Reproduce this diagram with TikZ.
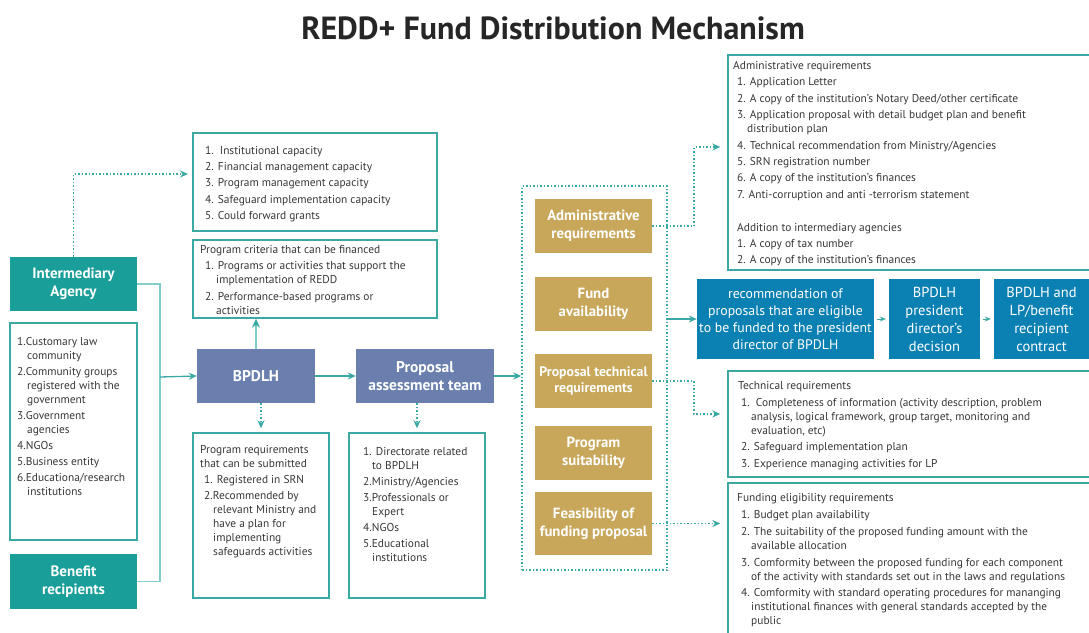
\documentclass[tikz,border=0pt]{standalone}
\usepackage{fontspec}
\setmainfont{PT Sans}
\usepackage{tikz}
\usetikzlibrary{arrows.meta, positioning, calc}
\definecolor{agentteal}{RGB}{26,158,153}
\definecolor{lineteal}{RGB}{58,169,164}
\definecolor{paleteal}{RGB}{130,206,202}
\definecolor{slate}{RGB}{106,127,174}
\definecolor{gold}{RGB}{200,167,90}
\definecolor{ocean}{RGB}{11,128,179}
\definecolor{ink}{RGB}{55,55,55}
\tikzstyle{agent} = [rectangle, fill=agentteal, text=white, font=\bfseries\fontsize{15}{18.5}\selectfont, align=center, inner sep=0pt]
\tikzstyle{office} = [rectangle, fill=slate, text=white, font=\bfseries\fontsize{15.5}{18.5}\selectfont, align=center, inner sep=0pt]
\tikzstyle{criterion} = [rectangle, fill=gold, text=white, font=\bfseries\fontsize{14.8}{18}\selectfont, align=center, inner sep=0pt, minimum width=117, minimum height=54]
\tikzstyle{stage} = [rectangle, fill=ocean, text=white, font=\fontsize{13.8}{17}\selectfont, align=center, inner sep=0pt, minimum height=80]
\tikzstyle{listbox} = [rectangle, draw=lineteal, line width=1.4pt, inner sep=0pt]
\tikzstyle{listtext} = [anchor=north west, align=left, inner sep=0pt, text=ink, font=\fontsize{11.4}{14}\selectfont]
\tikzstyle{arrow} = [line width=1.3pt, draw=lineteal, ->, >={Stealth[length=8pt,width=7pt]}]
\tikzstyle{dotarrow} = [line width=1.5pt, draw=lineteal, dotted, ->, >={Stealth[length=8pt,width=7pt]}]

\begin{document}
\begin{tikzpicture}[x=1pt, y=-1pt]
    \useasboundingbox (0,0) rectangle (1089,632);

    % Title
    \node[font=\bfseries\fontsize{32}{38}\selectfont, text=black!85] (title) at (553,28) {REDD+ Fund Distribution Mechanism};

    % Recipients column
    \node[agent, minimum width=127, minimum height=54] (intag) at (73.5,284) {Intermediary\\Agency};
    \node[listbox, minimum width=127, minimum height=217] (types) at (73.5,431.5) {};
    \node[listtext] at (17,337) {1.Customary law\\
        \hspace*{10pt}community\\[2pt]
        2.Community groups\\
        \hspace*{10pt}registered with the\\
        \hspace*{10pt}government\\[2pt]
        3.Government\\
        \hspace*{10pt}agencies\\[2pt]
        4.NGOs\\[2pt]
        5.Business entity\\[2pt]
        6.Educationa/research\\
        \hspace*{10pt}institutions};
    \node[agent, minimum width=127, minimum height=55] (benef) at (73.5,581.5) {Benefit\\recipients};

    \coordinate (bus) at (160,377);
    \draw[line width=1.3pt, paleteal] (intag.east) -| (bus) |- (benef.east);
    \draw[dotarrow] (intag.north) |- (188,174) coordinate (capin);

    % Capacity and criteria
    \node[listbox, minimum width=244, minimum height=98] (capac) at (315,182) {};
    \node[listtext, font=\fontsize{11.4}{16.3}\selectfont] at (205,146) {1.\ \ Institutional capacity\\
        2. Financial management capacity\\
        3. Program management capacity\\
        4. Safeguard implementation capacity\\
        5. Could forward grants};
    \node[listbox, minimum width=244, minimum height=78] (crit) at (315,279) {};
    \node[listtext] at (200,245) {Program criteria that can be financed\\[2pt]
        \hspace*{5pt}1. Programs or activities that support the\\
        \hspace*{16pt}implementation of REDD\\[3pt]
        \hspace*{5pt}2. Performance-based programs or\\
        \hspace*{16pt}activities};

    % BPDLH
    \node[office, minimum width=118, minimum height=54] (bpdlh) at (256,376) {BPDLH};
    \draw[arrow] (bus) -- (bpdlh.west);
    \draw[line width=1.3pt, paleteal, -{Stealth[length=9pt,width=8pt,color=lineteal]}] (bpdlh.north) -- (bpdlh.north |- crit.south);
    \node[listbox, minimum width=136, minimum height=165] (subreq) at (261,515.5) {};
    \node[listtext] at (200,445) {Program requirements\\
        that can be submitted\\[2pt]
        \hspace*{4pt}1. Registered in SRN\\[2pt]
        \hspace*{4pt}2.Recommended by\\
        \hspace*{13pt}relevant Ministry and\\
        \hspace*{13pt}have a plan for\\
        \hspace*{13pt}implementing\\
        \hspace*{13pt}safeguards activities};
    \draw[dotarrow, shorten >=4pt] (bpdlh.south -| subreq.north) -- (subreq.north);

    % Assessment team
    \node[office, minimum width=138, minimum height=54] (team) at (425,376) {Proposal\\assessment team};
    \draw[arrow] (bpdlh.east) -- (team.west);
    \node[listbox, minimum width=136, minimum height=165] (members) at (417,515.5) {};
    \node[listtext] at (363,447) {1. Directorate related\\
        \hspace*{9pt}to BPDLH\\[2pt]
        2.Ministry/Agencies\\[2pt]
        3.Professionals or\\
        \hspace*{9pt}Expert\\[2pt]
        4.NGOs\\[2pt]
        5.Educational\\
        \hspace*{9pt}institutions};
    \draw[dotarrow, shorten >=4pt] (team.south -| members.north) -- (members.north);

    % Assessment criteria
    \node[draw=lineteal, line width=1.5pt, dotted, minimum width=145, minimum height=384, inner sep=0pt] (frame) at (594.5,378) {};
    \draw[arrow] (team.east) -- (frame.west |- team.east);
    \node[criterion] (admgold) at (593.5,226) {Administrative\\requirements};
    \node[criterion] (fundgold) at (593.5,304) {Fund\\availability};
    \node[criterion, font=\bfseries\fontsize{13.8}{16.5}\selectfont] (techgold) at (593.5,381) {Proposal technical\\requirements};
    \node[criterion] (suitgold) at (593.5,453) {Program\\suitability};
    \node[criterion, minimum height=63] (feasgold) at (593.5,523.5) {Feasibility of\\funding proposal};

    % Decision chain
    \node[stage, minimum width=177] (recom) at (785.5,319) {recommendation of\\proposals that are eligible\\to be funded to the president\\director of BPDLH};
    \node[stage, minimum width=91, font=\fontsize{14.5}{18}\selectfont] (decis) at (934.5,319) {BPDLH\\president\\director’s\\decision};
    \node[stage, minimum width=95, font=\fontsize{14.5}{18}\selectfont] (contr) at (1041.5,319) {BPDLH and\\LP/benefit\\recipient\\contract};
    \draw[arrow] (frame.east |- recom.west) -- (recom.west);
    \draw[arrow, line width=1pt, >={Stealth[length=6pt,width=5pt]}, shorten <=3pt, shorten >=3pt] (recom.east) -- (decis.west);
    \draw[arrow, line width=1pt, >={Stealth[length=6pt,width=5pt]}, shorten <=3pt, shorten >=3pt] (decis.east) -- (contr.west);

    % Requirement details
    \node[listbox, minimum width=367, minimum height=215] (adminreq) at (911.5,162.5) {};
    \node[listtext] at (733,61) {Administrative requirements\\[2pt]
        \hspace*{4pt}1. Application Letter\\[3pt]
        \hspace*{4pt}2. A copy of the institution’s Notary Deed/other certificate\\[2pt]
        \hspace*{4pt}3. Application proposal with detail budget plan and benefit\\
        \hspace*{14pt}distribution plan\\[3pt]
        \hspace*{4pt}4. Technical recommendation from Ministry/Agencies\\[2pt]
        \hspace*{4pt}5. SRN registration number\\[2pt]
        \hspace*{4pt}6. A copy of the institution’s finances\\[3pt]
        \hspace*{4pt}7. Anti-corruption and anti -terrorism statement\\[19pt]
        \hspace*{4pt}Addition to intermediary agencies\\[2pt]
        \hspace*{4pt}1. A copy of tax number\\[2pt]
        \hspace*{4pt}2. A copy of the institution’s finances};
    \draw[dotarrow, shorten >=7pt] (admgold.east) -- ++(42,0) |- ([yshift=15.5pt]adminreq.west);

    \node[listbox, minimum width=367, minimum height=106] (techreq) at (911.5,424) {};
    \node[listtext] at (738,381) {Technical requirements\\[3pt]
        \hspace*{3pt}1.\ \ Completeness of information (activity description, problem\\
        \hspace*{13pt}analysis, logical framework, group target, monitoring and\\
        \hspace*{13pt}evaluation, etc)\\[2pt]
        \hspace*{3pt}2. Safeguard implementation plan\\[3pt]
        \hspace*{3pt}3. Experience managing activities for LP};
    \draw[dotarrow, shorten >=7pt] (techgold.east) -- ++(42,0) |- ([yshift=10pt]techreq.west);

    \node[listbox, minimum width=367, minimum height=162] (fundreq) at (911.5,564) {};
    \node[listtext] at (737,493) {Funding eligibility requirements\\[3pt]
        \hspace*{4pt}1. Budget plan availability\\[3pt]
        \hspace*{4pt}2. The suitability of the proposed funding amount with the\\
        \hspace*{14pt}available allocation\\[3pt]
        \hspace*{4pt}3. Comformity between the proposed funding for each component\\
        \hspace*{14pt}of the activity with standards set out in the laws and regulations\\[2pt]
        \hspace*{4pt}4. Comformity with standard operating procedures for mananging\\
        \hspace*{14pt}institutional finances with general standards accepted by the\\
        \hspace*{14pt}public};
    \draw[dotarrow, shorten >=7pt] (feasgold.east) -- (feasgold.east -| fundreq.west);
\end{tikzpicture}
\end{document}
